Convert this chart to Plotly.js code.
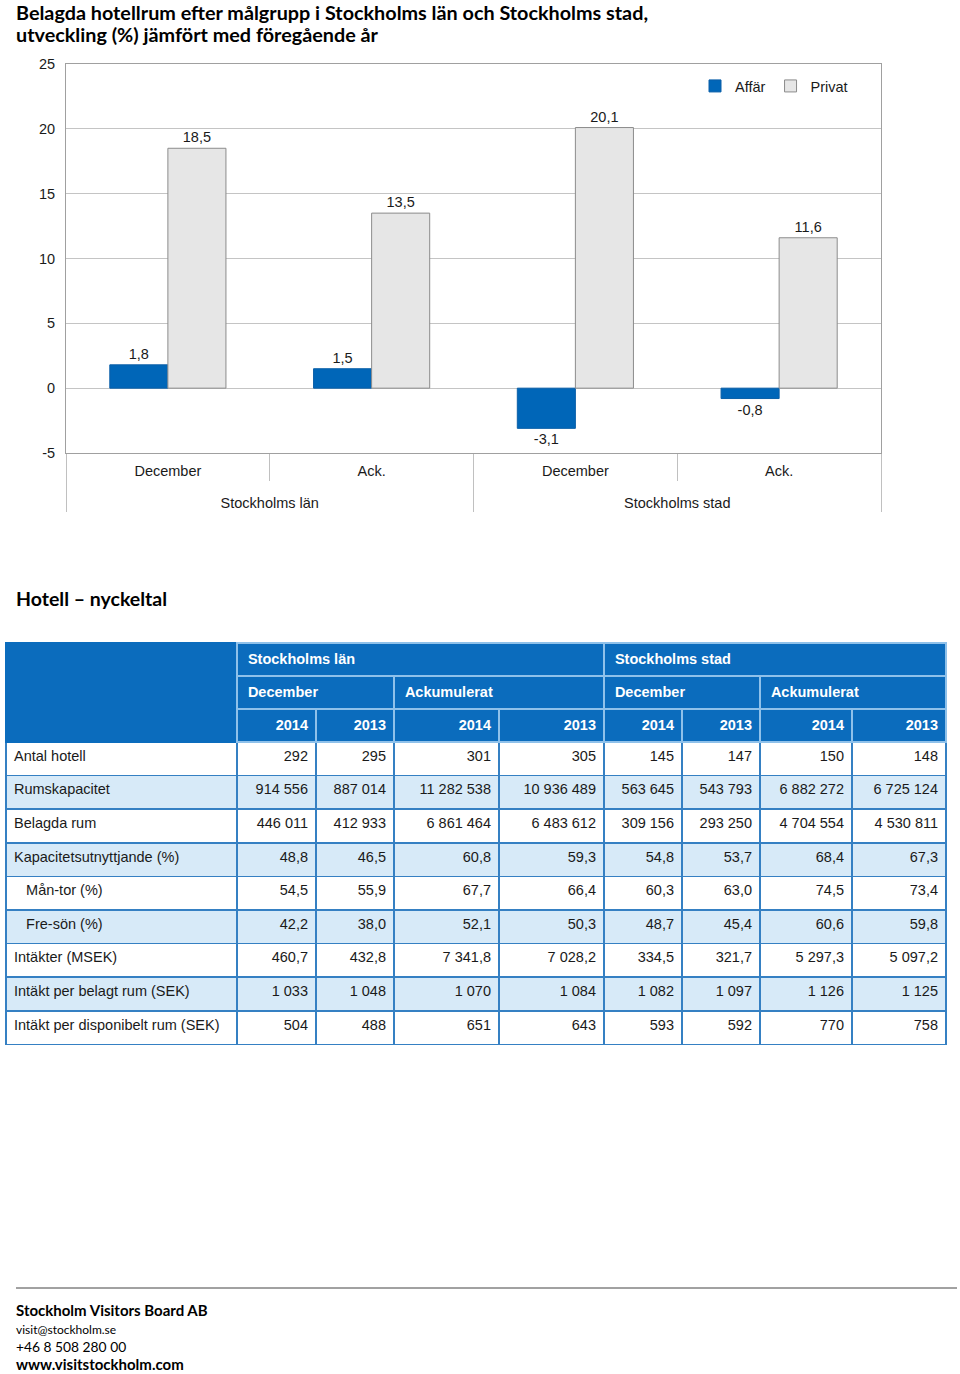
<!DOCTYPE html>
<html>
<head>
<meta charset="utf-8">
<script src="https://cdn.plot.ly/plotly-3.0.1.min.js"></script>
<style>
  html, body { margin: 0; padding: 0; background: #fff; }
  #page { width: 960px; height: 1374px; }
</style>
</head>
<body>
<div id="page"></div>
<script>
// ---------- Chart data ----------
const groupLabels = ["Stockholms län", "Stockholms län", "Stockholms stad", "Stockholms stad"];
const periodLabels = ["December", "Ack.", "December", "Ack."];
const affar = [1.8, 1.5, -3.1, -0.8];
const privat = [18.5, 13.5, 20.1, 11.6];
const yTickValues = [-5, 0, 5, 10, 15, 20, 25];
const seriesNames = ["Affär", "Privat"];

// ---------- Table data ----------
const regionHeaders = ["Stockholms län", "Stockholms stad"];
const periodHeaders = ["December", "Ackumulerat", "December", "Ackumulerat"];
const yearHeaders = ["2014", "2013", "2014", "2013", "2014", "2013", "2014", "2013"];
const rowLabels = ["Antal hotell", "Rumskapacitet", "Belagda rum", "Kapacitetsutnyttjande (%)",
  "Mån-tor (%)", "Fre-sön (%)", "Intäkter (MSEK)", "Intäkt per belagt rum (SEK)", "Intäkt per disponibelt rum (SEK)"];
const subRows = ["Mån-tor (%)", "Fre-sön (%)"];
const lanDec2014 = ["292", "914 556", "446 011", "48,8", "54,5", "42,2", "460,7", "1 033", "504"];
const lanDec2013 = ["295", "887 014", "412 933", "46,5", "55,9", "38,0", "432,8", "1 048", "488"];
const lanAck2014 = ["301", "11 282 538", "6 861 464", "60,8", "67,7", "52,1", "7 341,8", "1 070", "651"];
const lanAck2013 = ["305", "10 936 489", "6 483 612", "59,3", "66,4", "50,3", "7 028,2", "1 084", "643"];
const stadDec2014 = ["145", "563 645", "309 156", "54,8", "60,3", "48,7", "334,5", "1 082", "593"];
const stadDec2013 = ["147", "543 793", "293 250", "53,7", "63,0", "45,4", "321,7", "1 097", "592"];
const stadAck2014 = ["150", "6 882 272", "4 704 554", "68,4", "74,5", "60,6", "5 297,3", "1 126", "770"];
const stadAck2013 = ["148", "6 725 124", "4 530 811", "67,3", "73,4", "59,8", "5 097,2", "1 125", "758"];

// ---------- Text ----------
const chartTitleLines = ["Belagda hotellrum efter målgrupp i Stockholms län och Stockholms stad,",
  "utveckling (%) jämfört med föregående år"];
const tableTitle = "Hotell – nyckeltal";
const footerLines = ["Stockholm Visitors Board AB", "visit@stockholm.se", "+46 8 508 280 00", "www.visitstockholm.com"];

// ---------- Layout helpers ----------
const W = 960, H = 1374;
const px = v => v / W;
const py = v => 1 - v / H;
const SANS = "Liberation Sans, Arial, sans-serif";
const HEAD = "Lato, Inter, sans-serif";
const TXT = "#1a1a1a";
const BLUE = "#0b6cbd";
const HLINE = "#8fc1ea";
const DLINE = "#3580c3";
const ALT = "#d7eaf8";

// group level gets an empty first line so it sits one row below the period labels
const xCats = [groupLabels.map(g => "<br>" + g), periodLabels];

const barAffar = {
  type: "bar", name: seriesNames[0], x: xCats, y: affar,
  marker: { color: "#0066b8", line: { color: "#0a5fa8", width: 1 } },
  texttemplate: "%{y:.1f}", textposition: "outside", cliponaxis: false, constraintext: "none",
  textfont: { family: SANS, size: 14.5, color: TXT }, hoverinfo: "skip"
};
const barPrivat = {
  type: "bar", name: seriesNames[1], x: xCats, y: privat,
  marker: { color: "#e6e6e6", line: { color: "#8c8c8c", width: 1 } },
  texttemplate: "%{y:.1f}", textposition: "outside", cliponaxis: false, constraintext: "none",
  textfont: { family: SANS, size: 14.5, color: TXT }, hoverinfo: "skip"
};

// Table pieces
const colW = [231, 79, 78, 105, 105, 78, 78, 92, 94];
const dataCols = [lanDec2014, lanDec2013, lanAck2014, lanAck2013, stadDec2014, stadDec2013, stadAck2014, stadAck2013];
const nbsp = "\u00a0\u00a0\u00a0";
const labelCol = rowLabels.map(l => subRows.includes(l) ? nbsp + l : l);
const rowFill = rowLabels.map((_, i) => i % 2 ? ALT : "#ffffff");
const bold = s => "<b>" + s + "</b>";
const hb = s => "<b>\u2009" + s + "</b>";

const tblDomainX = [px(6), px(946)];

const tblRegion = {
  type: "table",
  domain: { x: tblDomainX, y: [py(677), py(643)] },
  columnwidth: [231, 367, 342],
  header: {
    values: ["", ...regionHeaders.map(hb)],
    align: "left", height: 33.5,
    fill: { color: BLUE },
    line: { color: [BLUE, HLINE, HLINE], width: 1.5 },
    font: { family: SANS, size: 14.5, color: "#ffffff" }
  },
  cells: { values: [[], [], []] }
};
const tblPeriod = {
  type: "table",
  domain: { x: tblDomainX, y: [py(710), py(676)] },
  columnwidth: [231, 157, 210, 156, 186],
  header: {
    values: ["", ...periodHeaders.map(hb)],
    align: "left", height: 33.5,
    fill: { color: BLUE },
    line: { color: [BLUE, HLINE, HLINE, HLINE, HLINE], width: 1.5 },
    font: { family: SANS, size: 14.5, color: "#ffffff" }
  },
  cells: { values: [[], [], [], [], []] }
};
const tblMain = {
  type: "table",
  domain: { x: tblDomainX, y: [py(1052), py(709)] },
  columnwidth: colW,
  header: {
    values: ["", ...yearHeaders.map(bold)],
    align: "right", height: 33,
    fill: { color: BLUE },
    line: { color: [BLUE, ...yearHeaders.map(() => HLINE)], width: 1.5 },
    font: { family: SANS, size: 14.5, color: "#ffffff" }
  },
  cells: {
    values: [labelCol, ...dataCols],
    align: ["left", ...dataCols.map(() => "right")],
    height: 33.6,
    fill: { color: [rowFill, ...dataCols.map(() => rowFill)] },
    line: { color: DLINE, width: 1.5 },
    font: { family: SANS, size: 14.5, color: TXT }
  }
};

const note = (text, x, y, size, isBold) => ({
  text: isBold ? "<b>" + text + "</b>" : text, x: px(x), y: py(y), xref: "paper", yref: "paper",
  xanchor: "left", yanchor: "middle", align: "left", showarrow: false,
  font: { family: HEAD, size: size, color: "#000" }
});

const annotations = [
  note(chartTitleLines[0], 14, 12.5, 19.8, true),
  note(chartTitleLines[1], 14, 34.5, 19.8, true),
  note(tableTitle, 14, 598, 19.5, true),
  note(footerLines[0], 14, 1310, 15, true),
  note(footerLines[1], 14, 1329, 12, false),
  note(footerLines[2], 14, 1346, 13.8, false),
  note(footerLines[3], 14, 1364, 15, true)
];

const layout = {
  width: W, height: H,
  margin: { l: 0, r: 0, t: 0, b: 0, pad: 0 },
  paper_bgcolor: "#ffffff", plot_bgcolor: "#ffffff",
  separators: ", ",
  font: { family: SANS, size: 14.5, color: TXT },
  barmode: "group", bargap: 0.43, bargroupgap: 0,
  showlegend: true,
  legend: {
    orientation: "h", x: px(695), y: py(86), xanchor: "left", yanchor: "middle",
    font: { family: SANS, size: 14.5, color: TXT }, bgcolor: "rgba(0,0,0,0)",
    itemwidth: 30, traceorder: "normal"
  },
  xaxis: {
    type: "multicategory",
    domain: [px(66), px(881)],
    anchor: "y",
    showline: true, linecolor: "#a0a0a0", linewidth: 1, mirror: true,
    showgrid: false,
    ticks: "outside", tickson: "boundaries", ticklen: 27, tickcolor: "#c0c0c0", tickwidth: 1,
    ticklabelstandoff: 5,
    showdividers: true, dividercolor: "#c0c0c0", dividerwidth: 1,
    tickfont: { family: SANS, size: 14.5, color: TXT },
    fixedrange: true
  },
  yaxis: {
    domain: [py(453), py(64)],
    range: [-5, 25], tickvals: yTickValues, ticktext: yTickValues.map(String),
    showline: true, linecolor: "#a0a0a0", linewidth: 1, mirror: true,
    showgrid: true, gridcolor: "#c4c4c4", gridwidth: 1,
    zeroline: false, ticks: "", ticklabelstandoff: 7,
    tickfont: { family: SANS, size: 14.5, color: TXT },
    fixedrange: true
  },
  shapes: [
    { type: "line", xref: "paper", yref: "paper", x0: px(16), x1: px(957), y0: py(1288), y1: py(1288),
      line: { color: "#444", width: 1 } }
  ],
  annotations: annotations
};

Plotly.newPlot("page", [barAffar, barPrivat, tblRegion, tblPeriod, tblMain], layout,
  { displayModeBar: false, staticPlot: true });
</script>
</body>
</html>
